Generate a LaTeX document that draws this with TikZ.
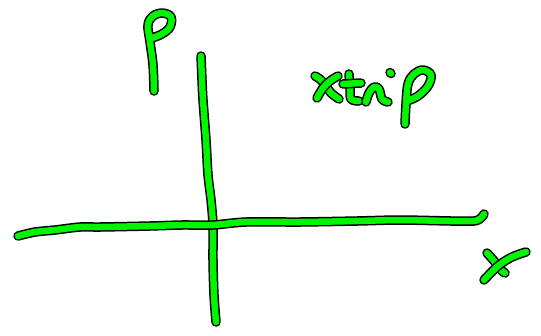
\documentclass[tikz,border=0pt]{standalone}
\definecolor{pen}{RGB}{0,245,0}
\tikzset{
  stroke/.style={line width=6.5pt, draw=pen, line cap=round, line join=round,
    preaction={draw=black, line width=9.5pt, line cap=round, line join=round}},
}
\begin{document}
\begin{tikzpicture}[x=1pt,y=-1pt]
\useasboundingbox (0,0) rectangle (541,335);
% vertical axis
\draw[stroke] plot[smooth, tension=0.5] coordinates {(201,56) (202,80) (203,100) (206,140) (208,175) (211,200) (213,225) (213,260) (214,295) (216,322)};
% horizontal axis
\draw[stroke] plot[smooth, tension=0.5] coordinates {(18,236) (35,232) (55,230) (80,227) (100,227) (150,226) (182,225) (213,225) (246,222) (300,222) (357,221) (400,220) (451,221) (474,221) (481,218) (484,214)};
% P
\draw[stroke] plot[smooth, tension=0.6] coordinates {(154,91) (153,65) (150,42) (148,25) (153,16) (163,13) (171,17) (170,27) (162,34) (152,38)};
% Xtip: X
\draw[stroke] plot[smooth, tension=0.6] coordinates {(315,76) (321,80) (326,86) (331,93) (339,99)};
\draw[stroke] plot[smooth, tension=0.6] coordinates {(338,76) (330,81) (323,88) (317,98)};
% t
\draw[stroke] plot[smooth, tension=0.6] coordinates {(349,74) (350,88) (351,99) (359,101)};
\draw[stroke] (343,84) -- (361,83);
% i
\draw[stroke] plot[smooth, tension=0.6] coordinates {(366,102) (369,93) (374,87) (379,89) (382,99) (388,102)};
\draw[stroke] (390,72.5) -- (391,73.5);
% p
\draw[stroke] plot[smooth, tension=0.6] coordinates {(405,124) (406,104) (408,84) (414,74) (423,70) (431,75) (428,86) (418,96) (407,101)};
% big X
\draw[stroke] plot[smooth, tension=0.6] coordinates {(487,253) (495,262) (501,270) (505,273)};
\draw[stroke] plot[smooth, tension=0.6] coordinates {(526,252) (512,257) (498,266) (484,280)};
\end{tikzpicture}
\end{document}
